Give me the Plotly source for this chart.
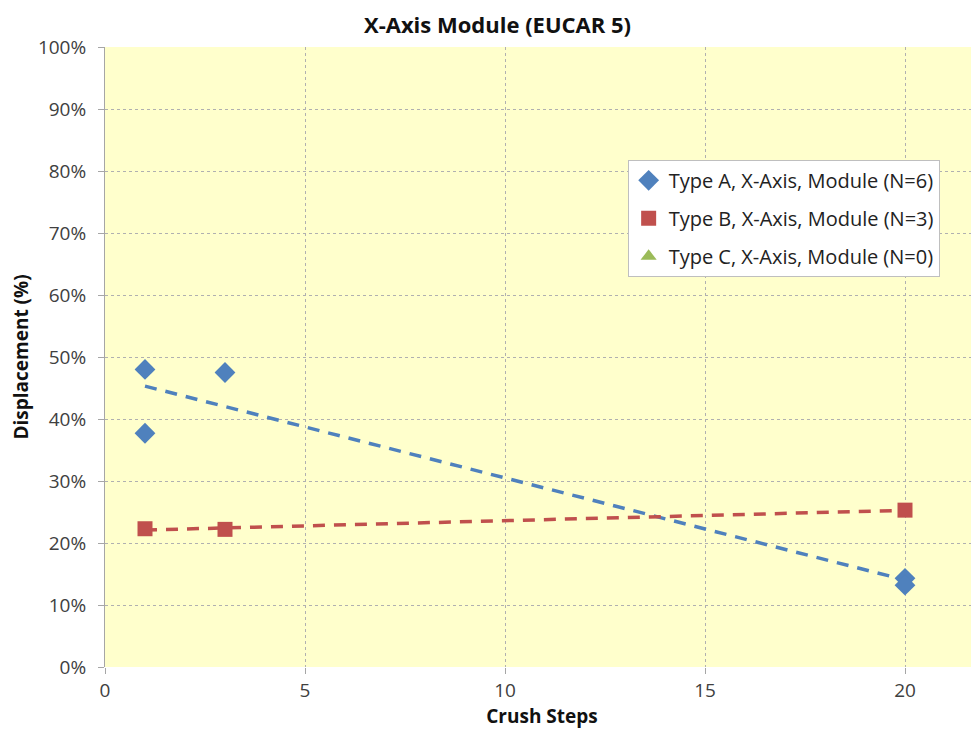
import numpy as np
import plotly.graph_objects as go

# Type A, X-Axis, Module
a_steps = [1, 1, 3, 20, 20]
a_disp = [0.480, 0.377, 0.475, 0.143, 0.132]

# Type B, X-Axis, Module
b_steps = [1, 3, 20]
b_disp = [0.223, 0.222, 0.253]

# Type C has no data (N=0)
c_steps = [None]
c_disp = [None]

labels = [
    "Type A, X-Axis, Module (N=6)",
    "Type B, X-Axis, Module (N=3)",
    "Type C, X-Axis, Module (N=0)",
]

BLUE = "#4F81BD"
RED = "#C0504D"
GREEN = "#9BBB59"
FONT = "Open Sans, Noto Sans, sans-serif"


def trend(xs, ys):
    # linear least-squares trendline between min and max x
    k, b = np.polyfit(xs, ys, 1)
    xx = [min(xs), max(xs)]
    return xx, [k * v + b for v in xx]


fig = go.Figure()

ax, ay = trend(a_steps, a_disp)
bx, by = trend(b_steps, b_disp)

fig.add_trace(go.Scatter(x=ax, y=ay, mode="lines", showlegend=False,
                         line=dict(color=BLUE, width=3.5, dash="12px,9px"),
                         hoverinfo="skip"))
fig.add_trace(go.Scatter(x=bx, y=by, mode="lines", showlegend=False,
                         line=dict(color=RED, width=3.5, dash="12px,9px"),
                         hoverinfo="skip"))

fig.add_trace(go.Scatter(x=a_steps, y=a_disp, mode="markers", name=labels[0],
                         legendgroup="a",
                         marker=dict(symbol="diamond", size=16, color=BLUE)))
fig.add_trace(go.Scatter(x=b_steps, y=b_disp, mode="markers", name=labels[1],
                         legendgroup="b",
                         marker=dict(symbol="square", size=15, color=RED)))
fig.add_trace(go.Scatter(x=c_steps, y=c_disp, mode="markers", name=labels[2],
                         legendgroup="c",
                         marker=dict(symbol="triangle-up", size=14, color=GREEN)))

grid = dict(showgrid=True, gridcolor="#B0B0B0", griddash="dot", gridwidth=1)

fig.update_layout(
    width=979, height=741,
    margin=dict(l=97, r=8, t=39, b=82),
    paper_bgcolor="white",
    plot_bgcolor="#FFFFCC",
    font=dict(family=FONT, size=19, color="#404040"),
    title=dict(text="<b>X-Axis Module (EUCAR 5)</b>", x=0.5, xanchor="center",
               y=0.977, yanchor="middle", font=dict(size=22, color="#111111")),
    xaxis=dict(range=[0, 21.85], dtick=5, title=dict(text="<b>Crush Steps</b>",
               font=dict(size=19, color="#111111"), standoff=4),
               ticks="outside", ticklen=6, tickcolor="#A6A6A6",
               showline=False, zeroline=False, **grid),
    yaxis=dict(range=[0, 1], dtick=0.1, tickformat=".0%",
               title=dict(text="<b>Displacement (%)</b>",
                          font=dict(size=19, color="#111111"), standoff=8),
               ticks="outside", ticklen=6, tickcolor="#A6A6A6",
               ticklabelstandoff=8,
               showline=True, linecolor="#A6A6A6", zeroline=False, **grid),
    legend=dict(x=0.598, y=0.818, xanchor="left", yanchor="top",
                bgcolor="white", bordercolor="#BFBFBF", borderwidth=1,
                font=dict(size=20, color="#222222"), itemwidth=30,
                tracegroupgap=9),
)

fig.write_html("out.html")
